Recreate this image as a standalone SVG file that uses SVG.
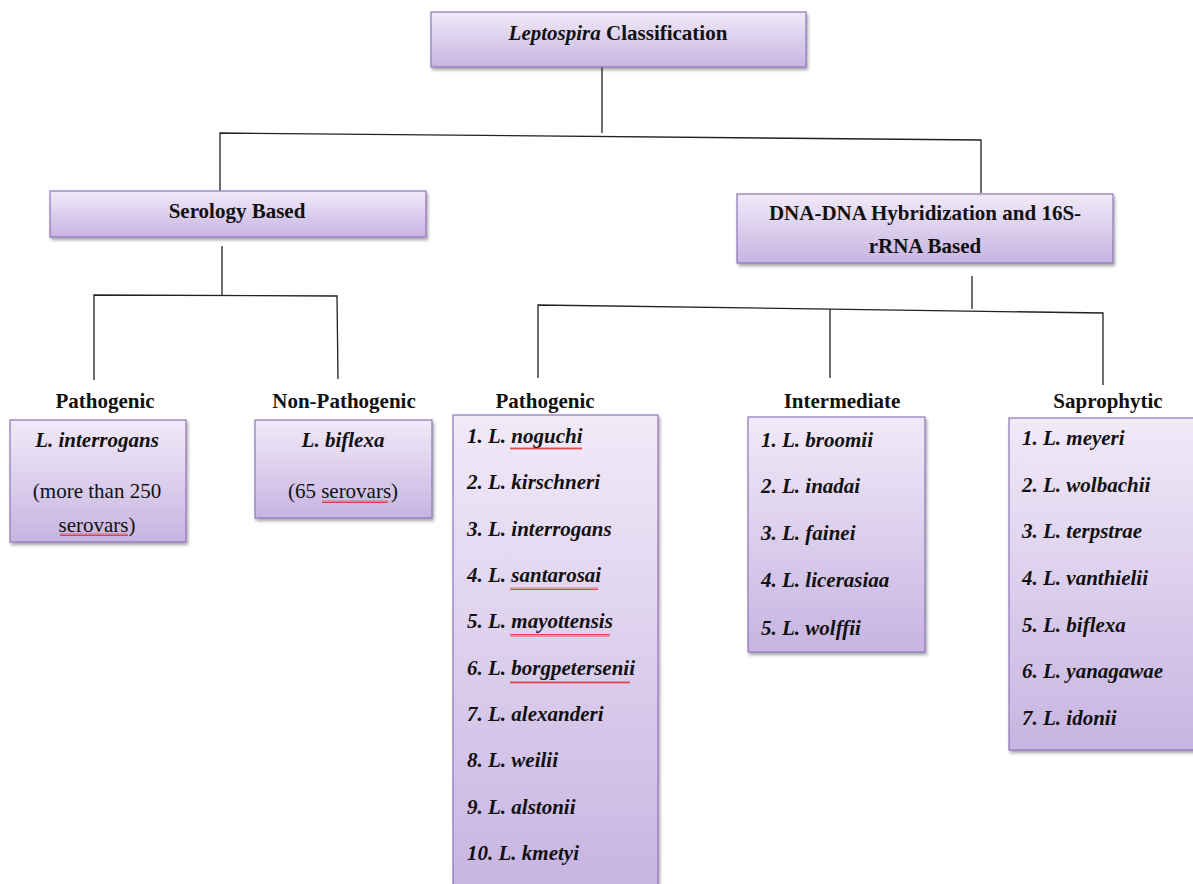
<svg xmlns="http://www.w3.org/2000/svg" width="1193" height="884" viewBox="0 0 1193 884">
<defs>
<linearGradient id="g" x1="0" y1="0" x2="0" y2="1">
<stop offset="0" stop-color="#f1eaf8"/>
<stop offset="1" stop-color="#c7b4e2"/>
</linearGradient>
<filter id="sh" x="-10%" y="-10%" width="130%" height="130%">
<feDropShadow dx="1.5" dy="2.5" stdDeviation="1.5" flood-color="#000" flood-opacity="0.35"/>
</filter>
<pattern id="wave" width="4" height="3" patternUnits="userSpaceOnUse">
<path d="M0 2.5 L1 0.5 L2 2.5 L3 0.5 L4 2.5" fill="none" stroke="#e0201c" stroke-width="0.8"/>
</pattern>
<style>
.box{fill:url(#g);stroke:#8c76b8;stroke-width:1.2;filter:url(#sh)}
.t{font-family:"Liberation Serif","Times New Roman",serif;font-weight:bold;font-size:21px;fill:#111}
.c{text-anchor:middle}
.i{font-style:italic}
.n{font-weight:normal}
.ln{fill:none;stroke:#222;stroke-width:1.3}
</style>
</defs>

<g id="connectors">
<path class="ln" d="M602 67 V133"/>
<path class="ln" d="M220 193 V133 L981 140 V193"/>
<path class="ln" d="M222 246 V295"/>
<path class="ln" d="M94 380 V295 L337 296 L338 379"/>
<path class="ln" d="M972 276 V309"/>
<path class="ln" d="M538 378 V305 L1103 313 V385"/>
<path class="ln" d="M830 378 V309"/>
</g>

<g id="root">
<rect class="box" x="431" y="12" width="375" height="55"/>
<text class="t c" x="618" y="40"><tspan class="i">Leptospira</tspan> Classification</text>
</g>

<g id="serology">
<rect class="box" x="50" y="191" width="376" height="46"/>
<text class="t c" x="237" y="218">Serology Based</text>
</g>

<g id="dna">
<rect class="box" x="737" y="194" width="376" height="69"/>
<text class="t c" x="925" y="220">DNA-DNA Hybridization and 16S-</text>
<text class="t c" x="925" y="253">rRNA Based</text>
</g>

<g id="sero-pathogenic">
<text class="t c" x="105" y="408">Pathogenic</text>
<rect class="box" x="10" y="420" width="176" height="122"/>
<text class="t c i" x="97" y="447">L. interrogans</text>
<text class="t c n" x="97" y="498">(more than 250</text>
<text class="t c n" x="97" y="532">serovars)</text>
<rect x="60" y="533" width="68" height="3" fill="url(#wave)"/>
</g>

<g id="sero-nonpathogenic">
<text class="t c" x="344" y="408">Non-Pathogenic</text>
<rect class="box" x="255" y="420" width="177" height="98"/>
<text class="t c i" x="343" y="447">L. biflexa</text>
<text class="t c n" x="343" y="498">(65 serovars)</text>
<rect x="322" y="500" width="66" height="3" fill="url(#wave)"/>
</g>

<g id="dna-pathogenic">
<text class="t c" x="545" y="408">Pathogenic</text>
<rect class="box" x="453" y="415" width="205" height="480"/>
<g class="t i">
<text x="467" y="443">1. L. noguchi</text>
<text x="467" y="489">2. L. kirschneri</text>
<text x="467" y="536">3. L. interrogans</text>
<text x="467" y="582">4. L. santarosai</text>
<text x="467" y="628">5. L. mayottensis</text>
<text x="467" y="675">6. L. borgpetersenii</text>
<text x="467" y="721">7. L. alexanderi</text>
<text x="467" y="767">8. L. weilii</text>
<text x="467" y="814">9. L. alstonii</text>
<text x="467" y="860">10. L. kmetyi</text>
</g>
<rect x="510" y="447" width="72" height="3" fill="url(#wave)"/>
<rect x="510" y="587" width="88" height="3" fill="url(#wave)"/>
<rect x="510" y="634" width="100" height="3" fill="url(#wave)"/>
<rect x="510" y="681" width="120" height="3" fill="url(#wave)"/>
</g>

<g id="intermediate">
<text class="t c" x="842" y="408">Intermediate</text>
<rect class="box" x="748" y="417" width="177" height="235"/>
<g class="t i">
<text x="761" y="447">1. L. broomii</text>
<text x="761" y="493">2. L. inadai</text>
<text x="761" y="540">3. L. fainei</text>
<text x="761" y="587">4. L. licerasiaa</text>
<text x="761" y="635">5. L. wolffii</text>
</g>
</g>

<g id="saprophytic">
<text class="t c" x="1108" y="408">Saprophytic</text>
<rect class="box" x="1009" y="418" width="200" height="332"/>
<g class="t i">
<text x="1022" y="445">1. L. meyeri</text>
<text x="1022" y="492">2. L. wolbachii</text>
<text x="1022" y="538">3. L. terpstrae</text>
<text x="1022" y="585">4. L. vanthielii</text>
<text x="1022" y="632">5. L. biflexa</text>
<text x="1022" y="678">6. L. yanagawae</text>
<text x="1022" y="725">7. L. idonii</text>
</g>
</g>
</svg>
